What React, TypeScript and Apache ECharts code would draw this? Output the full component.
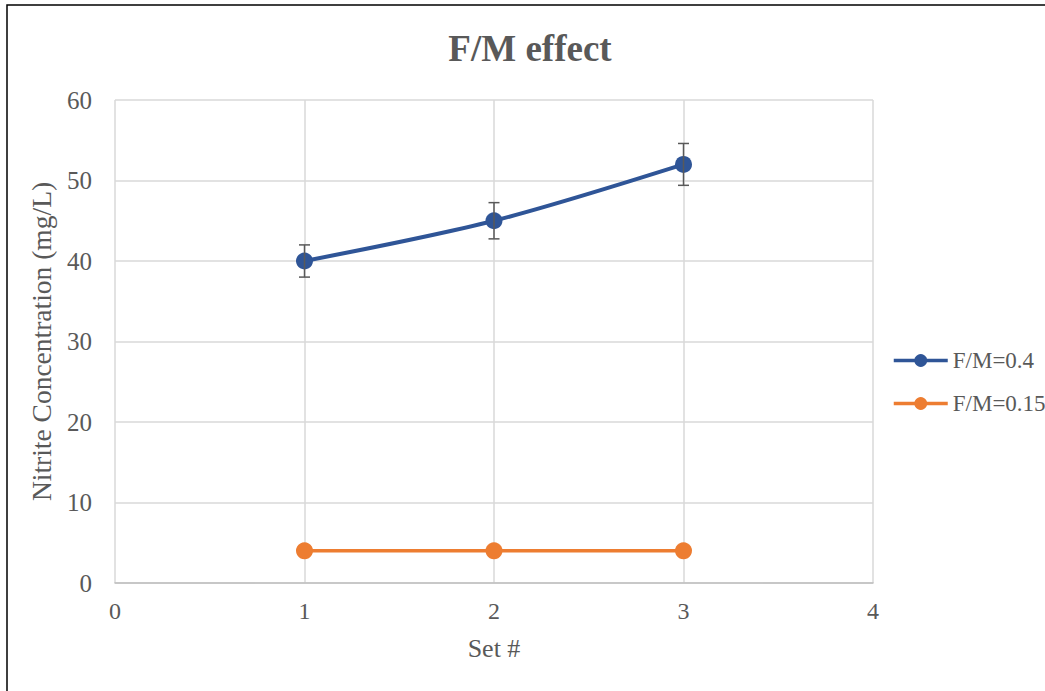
import React, { useEffect, useRef } from "react";
import * as echarts from "echarts";

const sets = [1, 2, 3];
const fm04 = [40, 45, 52];
const fm04Err = [2, 2.25, 2.6];
const fm015 = [4, 4, 4];
const seriesNames = ["F/M=0.4", "F/M=0.15"];
const titleText = "F/M effect";
const xName = "Set #";
const yName = "Nitrite Concentration (mg/L)";

const FONT = "'Liberation Serif', 'Times New Roman', serif";

export default function App() {
  const ref = useRef<HTMLDivElement>(null);
  useEffect(() => {
    const chart = echarts.init(ref.current!, null, { renderer: "svg" });
    const errData = sets.map((s, i) => [s, fm04[i] - fm04Err[i], fm04[i] + fm04Err[i]]);
    chart.setOption({
      animation: false,
      backgroundColor: "#ffffff",
      title: {
        text: titleText,
        left: 525,
        textAlign: "center",
        top: 25,
        textStyle: { fontFamily: FONT, fontSize: 37, fontWeight: "bold", color: "#595959" },
      },
      graphic: [
        {
          type: "rect",
          shape: { x: 7, y: 5, width: 1200, height: 900 },
          style: { fill: "none", stroke: "#000", lineWidth: 1.5 },
          silent: true,
        },
      ],
      legend: {
        orient: "vertical",
        left: 887,
        top: 344,
        itemWidth: 54,
        itemHeight: 16,
        itemGap: 20,
        data: seriesNames,
        lineStyle: { width: 3.5 },
        textStyle: { fontFamily: FONT, fontSize: 23, color: "#595959" },
      },
      grid: { left: 115, right: 172, top: 100, bottom: 108 },
      xAxis: {
        type: "value",
        min: 0,
        max: 4,
        interval: 1,
        name: xName,
        nameLocation: "middle",
        nameGap: 52,
        nameTextStyle: { fontFamily: FONT, fontSize: 26, color: "#595959" },
        axisLine: { show: true, lineStyle: { color: "#bfbfbf", width: 1.5 } },
        axisTick: { show: false },
        axisLabel: { fontFamily: FONT, fontSize: 24, color: "#595959", margin: 16 },
        splitLine: { show: true, lineStyle: { color: "#d9d9d9", width: 1.5 } },
      },
      yAxis: {
        type: "value",
        min: 0,
        max: 60,
        interval: 10,
        name: yName,
        nameLocation: "middle",
        nameGap: 60,
        nameTextStyle: { fontFamily: FONT, fontSize: 27.5, color: "#595959" },
        axisLine: { show: false },
        axisTick: { show: false },
        axisLabel: { fontFamily: FONT, fontSize: 25, color: "#595959", margin: 23 },
        splitLine: { show: true, lineStyle: { color: "#d9d9d9", width: 1.5 } },
      },
      series: [
        {
          name: seriesNames[0],
          type: "line",
          smooth: 0.3,
          data: sets.map((s, i) => [s, fm04[i]]),
          symbol: "circle",
          symbolSize: 17,
          itemStyle: { color: "#2f5597" },
          lineStyle: { color: "#2f5597", width: 4 },
          z: 3,
        },
        {
          name: seriesNames[1],
          type: "line",
          data: sets.map((s, i) => [s, fm015[i]]),
          symbol: "circle",
          symbolSize: 17,
          itemStyle: { color: "#ed7d31" },
          lineStyle: { color: "#ed7d31", width: 3.5 },
          z: 3,
        },
        {
          type: "custom",
          name: "err",
          data: errData,
          z: 4,
          renderItem: (params: any, api: any) => {
            const x = api.value(0);
            const lo = api.coord([x, api.value(1)]);
            const hi = api.coord([x, api.value(2)]);
            const cap = 5.5;
            const style = { stroke: "#595959", lineWidth: 1.5 };
            return {
              type: "group",
              children: [
                { type: "line", shape: { x1: lo[0], y1: lo[1], x2: hi[0], y2: hi[1] }, style },
                { type: "line", shape: { x1: lo[0] - cap, y1: lo[1], x2: lo[0] + cap, y2: lo[1] }, style },
                { type: "line", shape: { x1: hi[0] - cap, y1: hi[1], x2: hi[0] + cap, y2: hi[1] }, style },
              ],
            };
          },
        },
      ],
    });
    return () => chart.dispose();
  }, []);
  return (
    <div
      ref={ref}
      style={{ position: "absolute", left: 0, top: 0, width: 1045, height: 691 }}
    />
  );
}
